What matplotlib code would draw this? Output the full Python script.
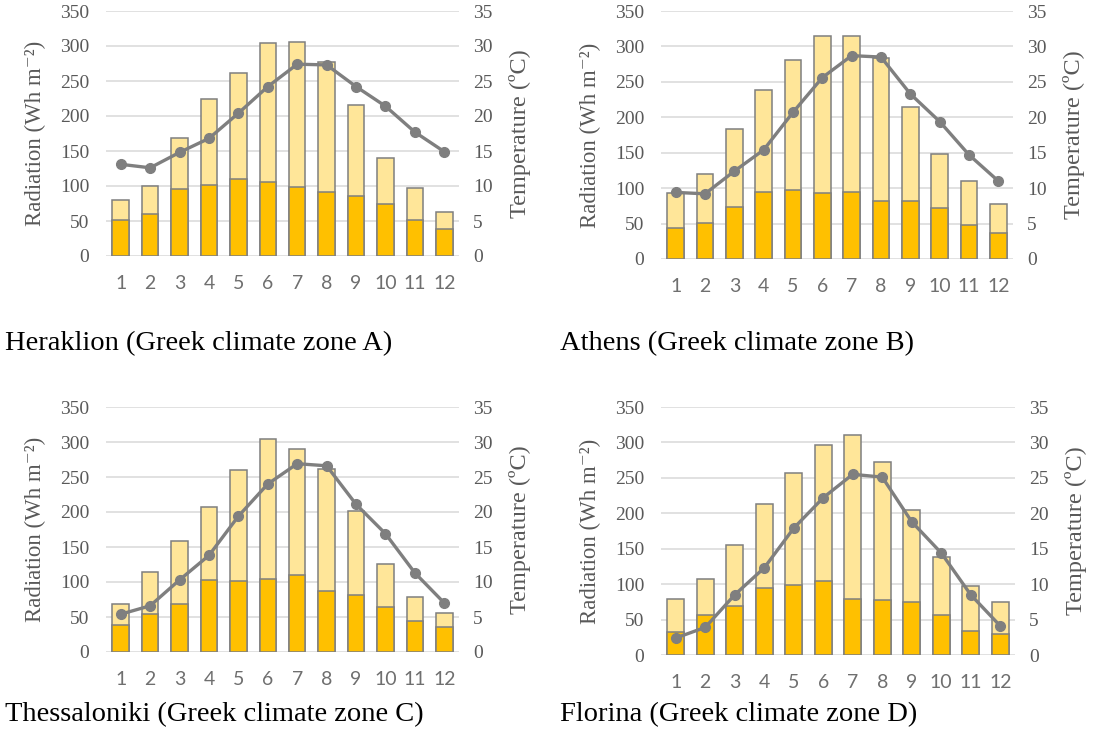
import matplotlib.pyplot as plt

months = [1, 2, 3, 4, 5, 6, 7, 8, 9, 10, 11, 12]

titles = [
    "Heraklion (Greek climate zone A)",
    "Athens (Greek climate zone B)",
    "Thessaloniki (Greek climate zone C)",
    "Florina (Greek climate zone D)",
]

# total radiation (Wh m-2)
total_a = [80, 100, 169, 224, 262, 304, 306, 277, 215, 140, 97, 63]
total_b = [93, 120, 184, 239, 281, 315, 315, 284, 215, 148, 110, 77]
total_c = [68, 114, 158, 207, 260, 305, 290, 261, 201, 126, 79, 56]
total_d = [79, 107, 155, 213, 257, 296, 311, 273, 205, 138, 97, 75]

# diffuse radiation (Wh m-2)
diffuse_a = [51, 60, 95, 102, 110, 105, 98, 91, 86, 74, 51, 39]
diffuse_b = [44, 51, 74, 95, 97, 93, 95, 82, 82, 72, 48, 37]
diffuse_c = [38, 55, 68, 103, 102, 104, 110, 87, 81, 64, 45, 36]
diffuse_d = [33, 56, 69, 94, 99, 105, 79, 77, 75, 57, 34, 30]

# mean temperature (oC)
temp_a = [13.1, 12.6, 14.8, 16.8, 20.4, 24.2, 27.4, 27.3, 24.2, 21.4, 17.7, 14.9]
temp_b = [9.4, 9.2, 12.4, 15.4, 20.7, 25.6, 28.7, 28.5, 23.3, 19.4, 14.7, 11.0]
temp_c = [5.4, 6.6, 10.3, 13.8, 19.4, 24.0, 26.9, 26.6, 21.1, 16.9, 11.3, 7.0]
temp_d = [2.4, 3.9, 8.5, 12.3, 17.9, 22.2, 25.5, 25.1, 18.8, 14.4, 8.5, 4.1]

rad_ticks = [0, 50, 100, 150, 200, 250, 300, 350]
temp_ticks = [0, 5, 10, 15, 20, 25, 30, 35]

SERIF = ["Liberation Serif", "DejaVu Serif"]
plt.rcParams["font.family"] = SERIF

GREY_TXT = "#595959"
LIGHT = "#FFE699"
DARK = "#FFC000"
EDGE = "#7F7F7F"
LINE = "#7F7F7F"

fig = plt.figure(figsize=(10.99, 7.33), dpi=100)

# axes rectangles in figure pixels: left, right, zero line, top line
boxes = [
    (106, 459, 256, 11),
    (661, 1013, 259, 11),
    (106, 459, 652, 407),
    (661, 1015, 655, 407),
]
title_pos = [(5, 344), (560, 344), (5, 715), (560, 715)]

W, H = 1099, 733


def panel(box, total, diffuse, temp, title, tpos):
    l, r, b, t = box
    ax = fig.add_axes([l / W, (H - b) / H, (r - l) / W, (b - t) / H])
    ax.bar(months, total, width=0.56, color=LIGHT, edgecolor=EDGE, linewidth=1.1, zorder=2)
    ax.bar(months, diffuse, width=0.56, color=DARK, edgecolor=EDGE, linewidth=1.1, zorder=3)
    ax.set_xlim(0.5, 12.5)
    ax.set_ylim(0, 350)
    ax.set_yticks(rad_ticks, [str(v) for v in rad_ticks], fontfamily=SERIF)
    ax.set_xticks(months, [str(m) for m in months], fontfamily="Lato")
    ax.grid(axis="y", color="#D9D9D9", linewidth=1.1, zorder=0)
    ax.set_axisbelow(True)
    for s in ax.spines.values():
        s.set_visible(False)
    ax.tick_params(length=0)
    ax.tick_params(axis="y", pad=12, labelcolor=GREY_TXT, labelsize=14)
    ax.tick_params(axis="x", pad=14, labelcolor="#6F6F6F", labelsize=14)
    ax.set_ylabel("Radiation (Wh m⁻²)", fontsize=16.5, color=GREY_TXT, labelpad=10)

    ax2 = ax.twinx()
    ax2.plot(months, temp, color=LINE, linewidth=2.4, marker="o", markersize=7, zorder=4)
    ax2.set_ylim(0, 35)
    ax2.set_yticks(temp_ticks, [str(v) for v in temp_ticks], fontfamily=SERIF)
    for s in ax2.spines.values():
        s.set_visible(False)
    ax2.tick_params(length=0, pad=10, labelcolor=GREY_TXT, labelsize=14)
    ax2.set_ylabel("Temperature (ºC)", fontsize=17.5, color=GREY_TXT, labelpad=12)

    fig.text(tpos[0] / W, (H - tpos[1]) / H, title, fontsize=20.5,
             color="black", ha="left", va="center")


panel(boxes[0], total_a, diffuse_a, temp_a, titles[0], title_pos[0])
panel(boxes[1], total_b, diffuse_b, temp_b, titles[1], title_pos[1])
panel(boxes[2], total_c, diffuse_c, temp_c, titles[2], title_pos[2])
panel(boxes[3], total_d, diffuse_d, temp_d, titles[3], title_pos[3])

fig.savefig("out.png", dpi=100)
